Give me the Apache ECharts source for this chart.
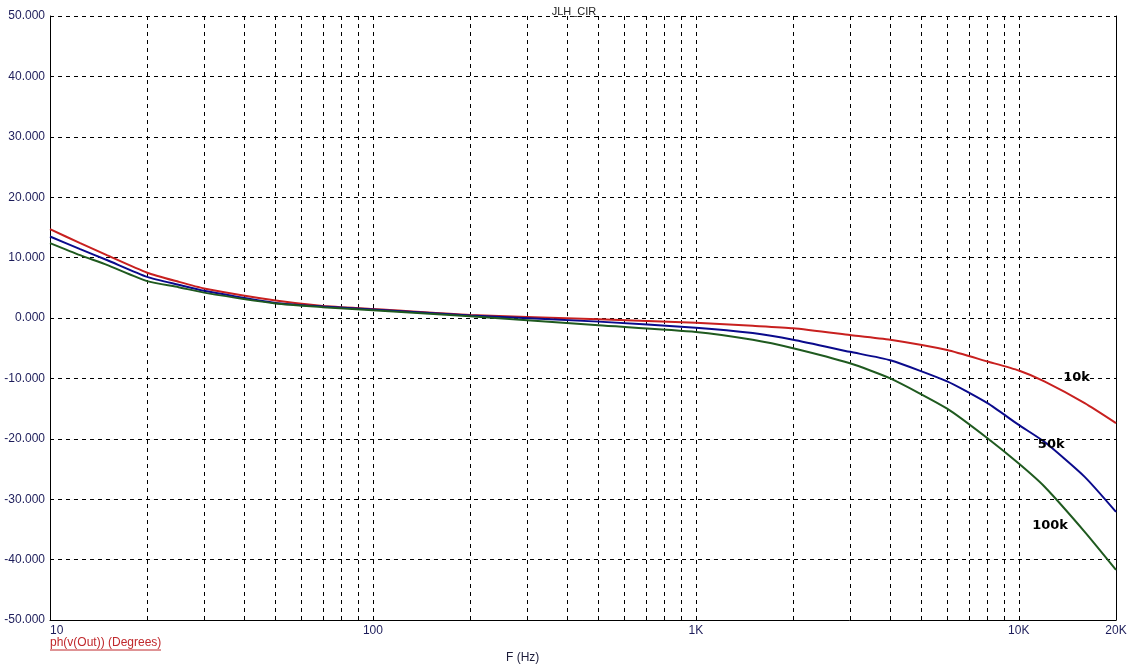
<!DOCTYPE html>
<html>
<head>
<meta charset="utf-8">
<script src="https://cdn.jsdelivr.net/npm/echarts@6/dist/echarts.min.js"></script>
<style>
html,body{margin:0;padding:0;background:#fff;}
#chart{width:1148px;height:672px;}
</style>
</head>
<body>
<div id="chart"></div>
<script>
// Frequencies (Hz)
const freqs = [10, 12.4, 15, 20, 25, 30, 50, 70, 100, 200, 500, 1000, 1500, 2000, 3000, 4000, 6000, 8000, 10000, 12000, 16000, 20000];
// Phase (degrees) per source resistance
const phase10k  = [14.7, 12.4, 10.4, 7.5, 6.0, 4.9, 2.9, 2.0, 1.5, 0.5, -0.2, -0.8, -1.3, -1.7, -2.8, -3.6, -5.3, -7.2, -8.7, -10.5, -14.1, -17.4];
const phase50k  = [13.5, 11.4, 9.6, 6.8, 5.5, 4.5, 2.5, 1.9, 1.4, 0.4, -0.6, -1.6, -2.5, -3.6, -5.6, -7.0, -10.5, -14.1, -17.7, -20.5, -26.3, -32.1];
const phase100k = [12.4, 10.4, 8.8, 6.1, 5.1, 4.2, 2.4, 1.8, 1.3, 0.3, -1.2, -2.3, -3.6, -5.0, -7.5, -10.0, -15.0, -19.9, -24.1, -27.9, -35.4, -41.7];
const seriesNames = ['10k', '50k', '100k'];
// Curve annotation anchors [freq, phase]
const labelAnchors = [[15100, -9.9], [12600, -21.0], [12500, -34.3]];
// Axis ticks
const xLabelValues = [10, 100, 1000, 10000, 20000];
const xGridValues = [10,20,30,40,50,60,70,80,90,100,200,300,400,500,600,700,800,900,1000,2000,3000,4000,5000,6000,7000,8000,9000,10000,20000];
const yMin = -50, yMax = 50, yStep = 10;

const colors = ['#c8201f', '#0a0a8c', '#1f5a1f'];
const phases = [phase10k, phase50k, phase100k];

const chart = echarts.init(document.getElementById('chart'));
const fontFamily = '"Liberation Sans", Arial, sans-serif';

function fmtFreq(v) {
  const r = Math.round(v);
  if (r >= 1000) return (Math.round(r / 1000)) + 'K';
  return String(r);
}

const series = seriesNames.map((name, i) => ({
  name: name,
  type: 'line',
  data: freqs.map((f, j) => [f, phases[i][j]]),
  showSymbol: false,
  smooth: 0.2,
  lineStyle: { color: colors[i], width: 2 },
  itemStyle: { color: colors[i] },
  z: 3 + i,
  markPoint: {
    symbol: 'circle',
    symbolSize: 0,
    label: {
      show: true,
      formatter: name,
      color: '#000',
      fontWeight: 'bold',
      fontSize: 13,
      fontFamily: '"DejaVu Sans", sans-serif',
      position: 'inside'
    },
    data: [{ coord: labelAnchors[i] }]
  }
}));

const option = {
  backgroundColor: '#fff',
  animation: false,
  title: {
    text: 'JLH_CIR',
    left: 'center',
    top: 1,
    textStyle: { fontSize: 11, fontWeight: 'normal', color: '#222', fontFamily: fontFamily }
  },
  grid: { left: 50, right: 32, top: 16, bottom: 52, containLabel: false },
  xAxis: {
    type: 'log',
    logBase: 10,
    min: 10,
    max: 20000,
    axisLine: { show: true, onZero: false, lineStyle: { color: '#000', width: 1 } },
    axisTick: { show: false, customValues: xGridValues },
    axisLabel: {
      customValues: xLabelValues,
      formatter: fmtFreq,
      color: '#1c1c5a',
      fontSize: 12,
      fontFamily: fontFamily,
      margin: 5,
      alignMinLabel: 'left'
    },
    splitLine: { show: true, lineStyle: { color: '#000', type: [4, 4], width: 1 } }
  },
  yAxis: [{
    type: 'value',
    min: yMin,
    max: yMax,
    interval: yStep,
    axisLine: { show: true, onZero: false, lineStyle: { color: '#000', width: 1 } },
    axisTick: { show: false },
    axisLabel: {
      formatter: v => v.toFixed(3),
      color: '#1c1c5a',
      fontSize: 12,
      fontFamily: fontFamily,
      margin: 5
    },
    splitLine: { show: true, lineStyle: { color: '#000', type: [4, 4], width: 1 } }
  }, {
    type: 'value',
    position: 'right',
    min: yMin,
    max: yMax,
    interval: yStep,
    axisLine: { show: true, onZero: false, lineStyle: { color: '#000', width: 1 } },
    axisTick: { show: false },
    axisLabel: { show: false },
    splitLine: { show: false }
  }],
  series: series,
  graphic: [
    {
      type: 'text',
      left: 50,
      top: 637,
      style: { text: 'ph(v(Out)) (Degrees)', fill: '#c0282c', fontSize: 12, fontFamily: fontFamily }
    },
    {
      type: 'line',
      shape: { x1: 50, y1: 650, x2: 161, y2: 650 },
      style: { stroke: '#c0282c', lineWidth: 1 }
    },
    {
      type: 'text',
      left: 506,
      top: 652,
      style: { text: 'F (Hz)', fill: '#1c1c3a', fontSize: 12, fontFamily: fontFamily }
    }
  ]
};
chart.setOption(option);
</script>
</body>
</html>
